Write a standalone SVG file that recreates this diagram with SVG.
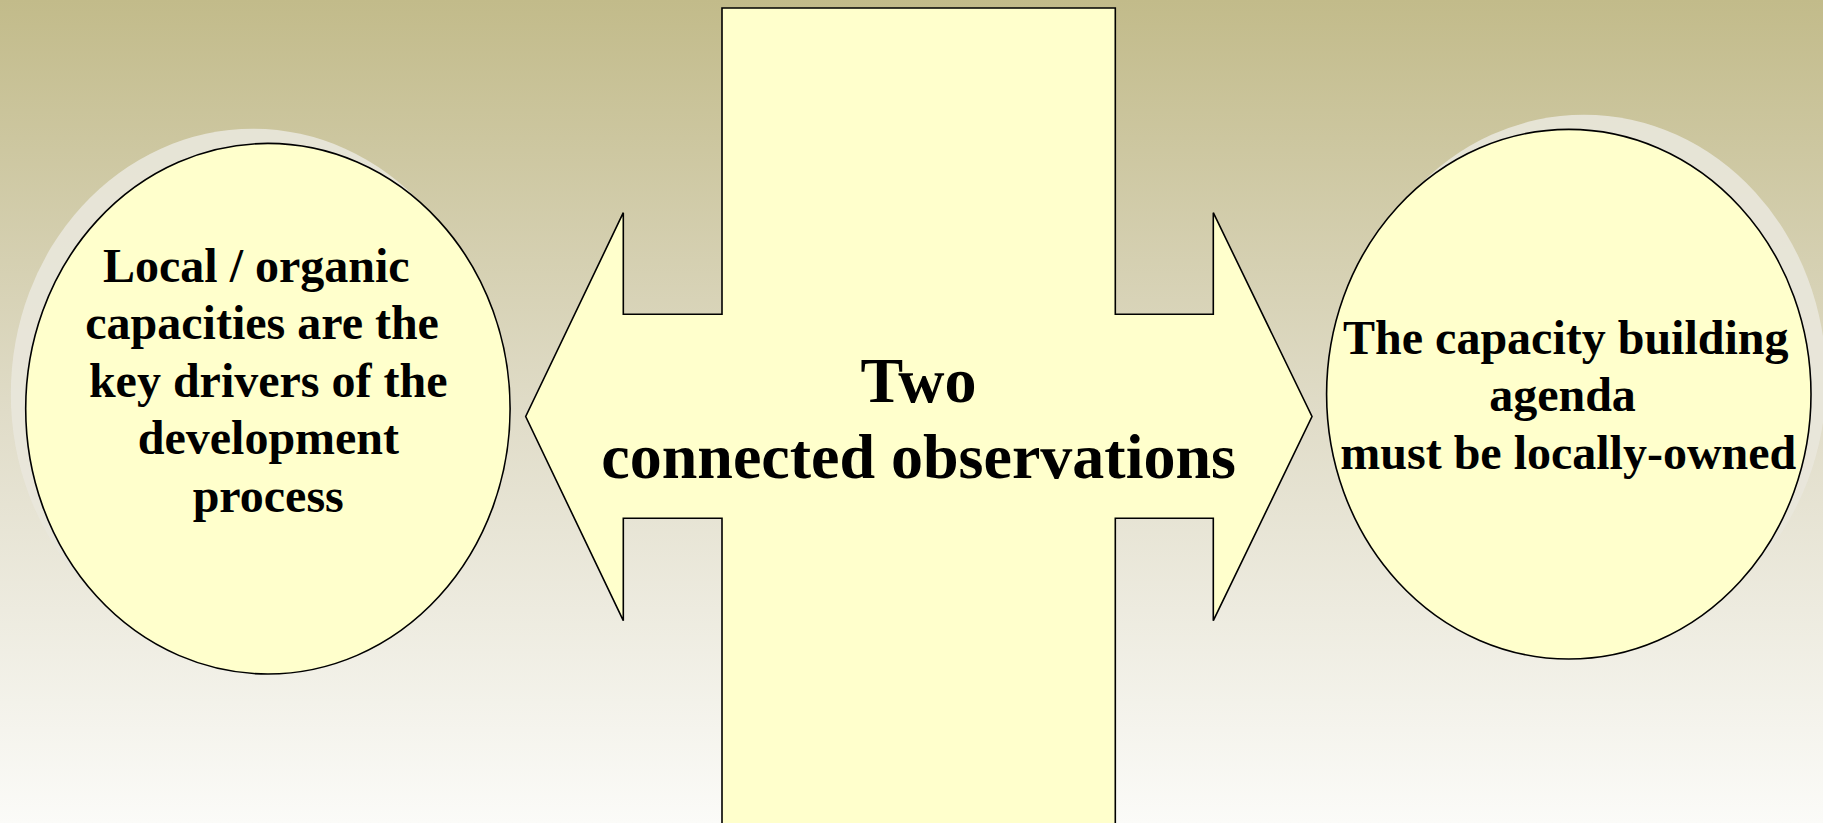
<svg xmlns="http://www.w3.org/2000/svg" width="1823" height="823" viewBox="0 0 1823 823">
  <defs>
    <linearGradient id="bg" x1="0" y1="0" x2="0" y2="1">
      <stop offset="0" stop-color="#c2bb8a"/>
      <stop offset="0.5" stop-color="#e0dcc8"/>
      <stop offset="1" stop-color="#fbfbf8"/>
    </linearGradient>
  </defs>
  <style>
    .shape { fill: #ffffcc; stroke: #000000; stroke-width: 1.6; }
    .shadow { fill: #e9e7db; opacity: 0.9; }
    .label { font-family: "Liberation Serif", "Times New Roman", serif; font-weight: bold; fill: #000000; text-anchor: middle; }
    .small { font-size: 48px; }
    .big { font-size: 64px; }
  </style>

  <!-- background -->
  <rect x="0" y="0" width="1823" height="823" fill="url(#bg)"/>

  <!-- left bubble -->
  <g id="node-local-capacities">
    <ellipse class="shadow" cx="253" cy="394" rx="242.2" ry="265.3"/>
    <ellipse class="shape" cx="267.9" cy="408.7" rx="242.2" ry="265.3"/>
    <text class="label small" x="256.3" y="281.5">Local / organic</text>
    <text class="label small" x="262.1" y="339">capacities are the</text>
    <text class="label small" x="268.2" y="396.6">key drivers of the</text>
    <text class="label small" x="268.4" y="454.2">development</text>
    <text class="label small" x="268.2" y="511.8">process</text>
  </g>

  <!-- centre: vertical bar crossed by a double-headed arrow -->
  <g id="node-two-observations">
    <polygon class="shape" points="722,8 1115.3,8 1115.3,314.3 1213.3,314.3 1213.3,212.7 1312,416.5 1213.3,620.7 1213.3,518.3 1115.3,518.3 1115.3,830 722,830 722,518.3 623.3,518.3 623.3,620.7 525.7,416.5 623.3,212.7 623.3,314.3 722,314.3"/>
    <text class="label big" x="918.5" y="401.6">Two</text>
    <text class="label big" x="918.6" y="477.7">connected observations</text>
  </g>

  <!-- right bubble -->
  <g id="node-locally-owned">
    <ellipse class="shadow" cx="1584" cy="379.5" rx="242.2" ry="264.8"/>
    <ellipse class="shape" cx="1568.8" cy="394.2" rx="242.2" ry="264.8"/>
    <text class="label small" x="1565.8" y="353.5">The capacity building</text>
    <text class="label small" x="1562.5" y="411">agenda</text>
    <text class="label small" x="1568.3" y="468.5">must be locally-owned</text>
  </g>
</svg>
